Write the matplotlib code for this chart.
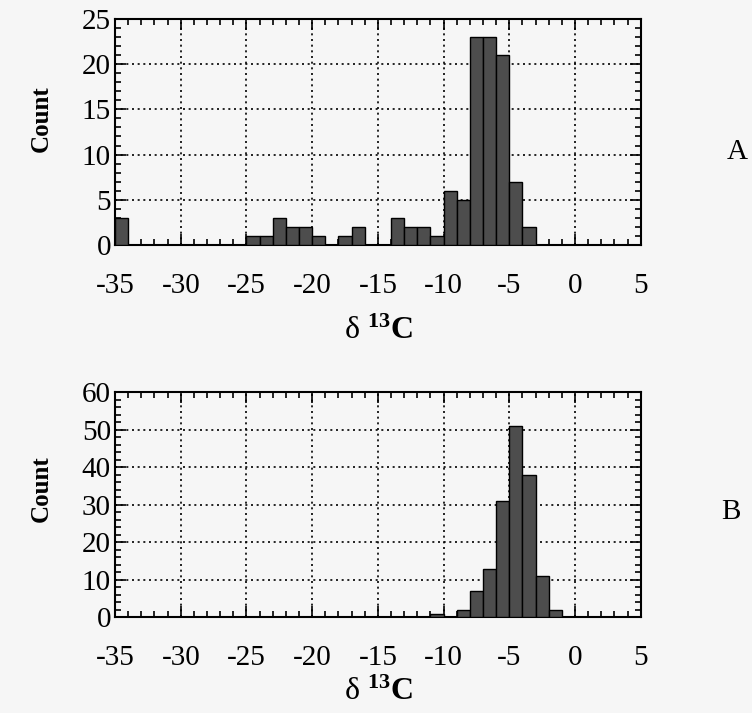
# δ13C 分布直方图（A / B 两个面板）
import numpy as np
import matplotlib.pyplot as plt
from matplotlib.ticker import MultipleLocator

plt.rcParams['font.family'] = ['Liberation Serif', 'DejaVu Serif']
plt.rcParams['mathtext.fontset'] = 'custom'
plt.rcParams['mathtext.rm'] = 'Liberation Serif'
plt.rcParams['mathtext.bf'] = 'Liberation Serif:bold'
plt.rcParams['mathtext.it'] = 'Liberation Serif:italic'

# 数据：每个 1‰ 区间的左端点和计数（只列非零区间）
a_left = [-35, -25, -24, -23, -22, -21, -20, -18, -17, -14, -13, -12, -11, -10, -9, -8, -7, -6, -5, -4]
a_count = [3, 1, 1, 3, 2, 2, 1, 1, 2, 3, 2, 2, 1, 6, 5, 23, 23, 21, 7, 2]
b_left = [-11, -9, -8, -7, -6, -5, -4, -3, -2]
b_count = [1, 2, 7, 13, 31, 51, 38, 11, 2]

x_ticks = [-35, -30, -25, -20, -15, -10, -5, 0, 5]

fig = plt.figure(figsize=(7.52, 7.13), dpi=100)
fig.patch.set_facecolor('#f6f6f6')

ax_a = fig.add_axes([0.153, 0.6564, 0.699, 0.317])
ax_b = fig.add_axes([0.153, 0.1342, 0.699, 0.3156])


def draw_panel(ax, left, count, ymax, ymajor, yminor, tag, count_y, tag_x, tag_y, xpad):
    ax.set_facecolor('#f6f6f6')
    ax.bar(left, count, width=1.0, align='edge', color='#4d4d4d',
           edgecolor='black', linewidth=1.0, zorder=3)
    ax.set_xlim(-35, 5)
    ax.set_ylim(0, ymax)
    ax.set_xticks(x_ticks)
    ax.set_xticklabels([str(t) for t in x_ticks])
    ax.xaxis.set_minor_locator(MultipleLocator(1))
    ax.yaxis.set_major_locator(MultipleLocator(ymajor))
    ax.yaxis.set_minor_locator(MultipleLocator(yminor))
    ax.tick_params(which='both', direction='in', top=True, right=True,
                   labelsize=21, width=1.2)
    ax.tick_params(which='major', length=8)
    ax.tick_params(which='minor', length=4.5)
    ax.tick_params(axis='x', pad=20)
    ax.tick_params(axis='y', pad=3)
    ax.grid(True, which='major', linestyle=(0, (1.2, 2.2)), color='black',
            linewidth=1.2, zorder=1)
    for s in ax.spines.values():
        s.set_linewidth(1.5)
    ax.set_ylabel('Count', fontsize=18, fontweight='bold')
    ax.yaxis.set_label_coords(-0.118, count_y)
    ax.set_xlabel(r'$\mathrm{\delta}\ ^{\mathbf{13}}\mathbf{C}$', fontsize=23, labelpad=xpad)
    ax.text(tag_x, tag_y, tag, transform=ax.transAxes, fontsize=21,
            ha='center', va='center')


draw_panel(ax_a, a_left, a_count, 25, 5, 1, 'A', 0.56, 1.183, 0.41, 13)
draw_panel(ax_b, b_left, b_count, 60, 10, 2, 'B', 0.573, 1.172, 0.467, 5)

fig.savefig('out.png', dpi=100, facecolor=fig.get_facecolor())
